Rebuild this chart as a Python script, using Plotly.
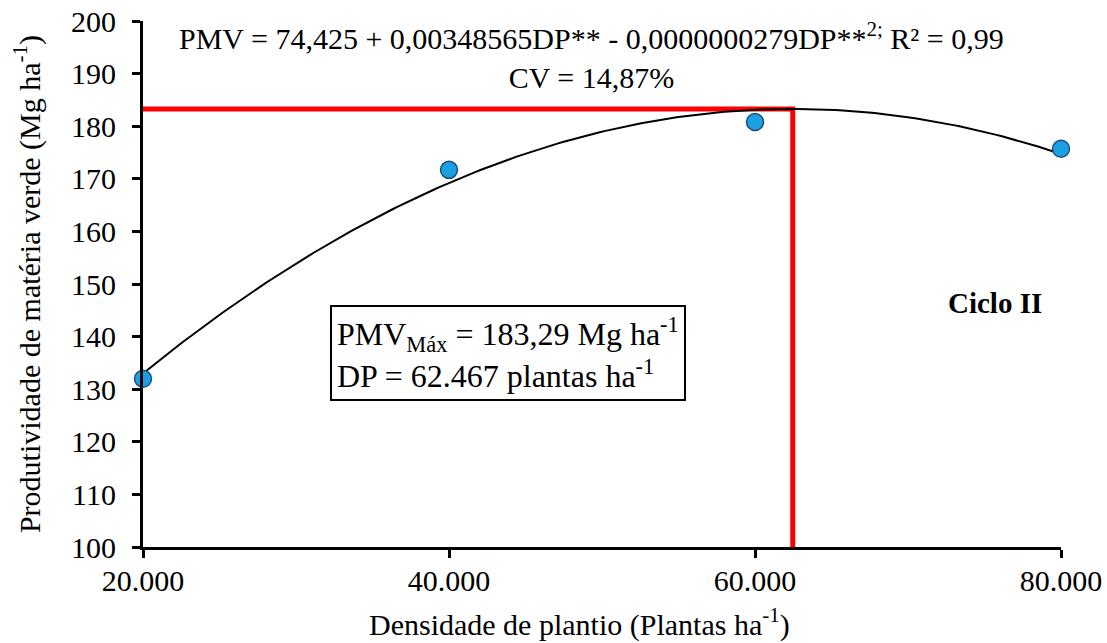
import numpy as np
import plotly.graph_objects as go

# Data
densidade = [20000, 40000, 60000, 80000]
pmv = [132.0, 171.7, 180.8, 175.7]

# Fitted equation printed on the chart
b0, b1, b2 = 74.425, 0.00348565, -0.0000000279
dp_max = 62467
pmv_max = 183.29

x_ticks = [20000, 40000, 60000, 80000]
y_ticks = [100, 110, 120, 130, 140, 150, 160, 170, 180, 190, 200]

xc = np.linspace(20000, 80000, 200)
yc = b0 + b1 * xc + b2 * xc ** 2

font_family = "Liberation Serif, Times New Roman, serif"

fig = go.Figure()
fig.add_trace(go.Scatter(x=[densidade[0], dp_max, dp_max], y=[pmv_max, pmv_max, 100],
                         mode="lines", line=dict(color="#FF0000", width=5),
                         cliponaxis=False, showlegend=False, hoverinfo="skip"))
fig.add_trace(go.Scatter(x=xc, y=yc, mode="lines", line=dict(color="black", width=2),
                         showlegend=False, hoverinfo="skip"))
fig.add_trace(go.Scatter(x=densidade, y=pmv, mode="markers",
                         marker=dict(size=17, color="#1BA1E2", line=dict(color="#1F4E79", width=1.5)),
                         cliponaxis=False, showlegend=False))

fig.update_layout(
    width=1107, height=643,
    margin=dict(l=143, r=46, t=21, b=96),
    plot_bgcolor="white", paper_bgcolor="white",
    separators=",.",
    font=dict(family=font_family, size=30, color="black"),
    xaxis=dict(range=[20000, 80000], tickvals=x_ticks, tickformat=",d", automargin=False,
               showgrid=False, zeroline=False, showline=True, linecolor="black", linewidth=3,
               ticks="outside", ticklen=8, tickwidth=3, tickcolor="black",
               tickfont=dict(size=30), ticklabelstandoff=-3),
    yaxis=dict(range=[100, 200], tickvals=y_ticks, automargin=False,
               showgrid=False, zeroline=False, showline=True, linecolor="black", linewidth=3,
               ticks="outside", ticklen=8, tickwidth=3, tickcolor="black",
               tickfont=dict(size=30), ticklabelstandoff=10,
               title=dict(text="Produtividade de matéria verde (Mg ha<sup>-1</sup>)",
                          font=dict(size=30), standoff=22)),
)

fig.add_annotation(xref="paper", yref="paper", x=0.475, y=-0.1835, yanchor="bottom",
                   text="Densidade de plantio (Plantas ha<sup>-1</sup>)",
                   showarrow=False, font=dict(size=30))
fig.add_annotation(xref="x", yref="paper", x=49300, y=1.012, yanchor="top",
                   text="PMV = 74,425 + 0,00348565DP** - 0,0000000279DP**<sup>2;</sup> R² = 0,99<br>CV = 14,87%",
                   showarrow=False, font=dict(size=30), align="center")
fig.add_annotation(xref="x", yref="y", x=43860, y=136.9, xanchor="center", yanchor="middle",
                   text="PMV<sub>Máx</sub> = 183,29 Mg ha<sup>-1</sup><br>DP = 62.467 plantas ha<sup>-1</sup>",
                   showarrow=False, font=dict(size=32), align="left",
                   bordercolor="black", borderwidth=2, borderpad=5, bgcolor="white")
fig.add_annotation(xref="x", yref="y", x=75700, y=146.4, text="<b>Ciclo II</b>",
                   showarrow=False, font=dict(size=29))

fig.write_html("out.html")
